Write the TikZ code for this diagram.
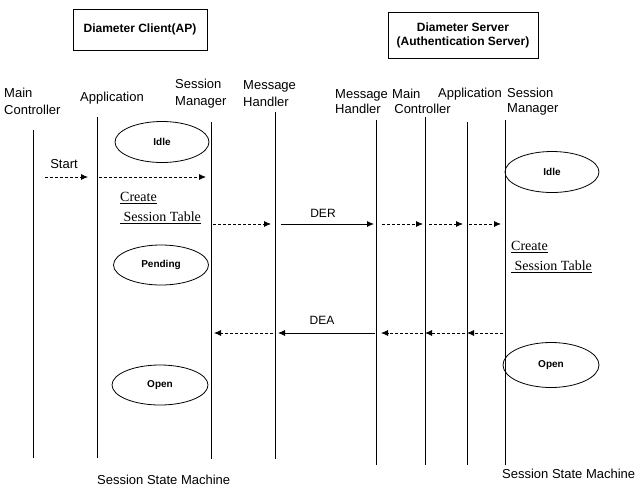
\documentclass[tikz,border=0pt]{standalone}
\usepackage{fontspec}
\setmainfont{Liberation Sans}
\newfontfamily\serifcs{Liberation Serif}
\usetikzlibrary{arrows.meta,shapes.geometric}
\begin{document}
\begin{tikzpicture}[x=1pt,y=-1pt,
  lifeline/.style={draw=black,line width=0.8pt},
  lbl/.style={inner sep=0pt,anchor=west,align=left,font=\fontsize{13}{17}\selectfont},
  hdr/.style={draw=black,line width=0.8pt,inner sep=0pt,align=center,font=\bfseries\fontsize{12}{14}\selectfont},
  state/.style={draw=black,line width=0.8pt,ellipse,inner sep=0pt,font=\bfseries\fontsize{10}{12}\selectfont},
  msg/.style={line width=0.8pt,-{Latex[length=7pt,width=6pt]}},
  dmsg/.style={msg,dash pattern=on 3pt off 2pt},
  note/.style={inner sep=0pt,anchor=west,align=left,font=\serifcs\fontsize{14}{20}\selectfont},
  mtxt/.style={inner sep=0pt,font=\fontsize{12}{14}\selectfont}]
\useasboundingbox[fill=white] (0,0) rectangle (640,488);

% headers
\node[hdr,minimum width=134pt,minimum height=41pt] (hc) at (140,29.5) {Diameter Client(AP)};
\node[hdr,minimum width=150pt,minimum height=46pt] (hs) at (463,35) {Diameter Server\\(Authentication Server)};

% lifeline labels
\node[lbl] (lcmc) at (4,101) {Main\\Controller};
\node[lbl] (lcap) at (80,98) {Application};
\node[lbl] (lcsm) at (175,94) {Session\\Manager};
\node[lbl] (lcmh) at (243,94) {Message\\Handler};
\node[lbl,font=\fontsize{13}{15}\selectfont] (lsmh) at (335,102) {Message\\Handler};
\node[lbl,font=\fontsize{13}{15}\selectfont] (lsmc) at (392,101) {Main\\\,Controller};
\node[lbl] (lsap) at (438,94) {Application};
\node[lbl,font=\fontsize{13}{15}\selectfont] (lssm) at (507,102) {Session\\Manager};

% lifelines
\coordinate (cmcT) at (33,130); \coordinate (cmcB) at (33,458);
\coordinate (capT) at (97,117); \coordinate (capB) at (97,458);
\coordinate (csmT) at (211,122); \coordinate (csmB) at (211,459);
\coordinate (cmhT) at (275,112); \coordinate (cmhB) at (275,459);
\coordinate (smhT) at (376,120); \coordinate (smhB) at (376,465);
\coordinate (smcT) at (425,117); \coordinate (smcB) at (425,465);
\coordinate (sapT) at (467,122); \coordinate (sapB) at (467,465);
\coordinate (ssmT) at (505,120); \coordinate (ssmB) at (505,465);
\foreach \l in {cmc,cap,csm,cmh,smh,smc,sap,ssm} \draw[lifeline] (\l T) -- (\l B);

% states
\node[state,minimum width=94pt,minimum height=41pt] (cidle) at (162,142) {Idle};
\node[state,minimum width=95pt,minimum height=40pt] (cpend) at (161,265) {Pending};
\node[state,minimum width=96pt,minimum height=40pt] (copen) at (160,385) {Open};
\node[state,minimum width=94pt,minimum height=41pt] (sidle) at (552,172) {Idle};
\node[state,minimum width=96pt,minimum height=45pt] (sopen) at (551,365) {Open};

% Start
\node[mtxt,font=\fontsize{13}{15}\selectfont] (start) at (64,164) {Start};
\coordinate (a1s) at (45,177); \coordinate (a1e) at (88,177);
\coordinate (a2s) at (99,177); \coordinate (a2e) at (206,177);
\draw[dmsg] (a1s) -- (a1e);
\draw[dmsg] (a2s) -- (a2e);

% Create Session Table
\node[note] (cst1) at (120,198) {\underline{Create}};
\node[note] (cst2) at (120,218) {\underline{\ Session Table}};
\node[note] (sst1) at (511,247) {\underline{Create}};
\node[note] (sst2) at (511,267) {\underline{\ Session Table}};

% DER
\coordinate (d1s) at (213,224); \coordinate (d1e) at (271,224);
\coordinate (d2s) at (281,224); \coordinate (d2e) at (374,224);
\coordinate (d3s) at (382,224); \coordinate (d3e) at (423,224);
\coordinate (d4s) at (429,224); \coordinate (d4e) at (463,224);
\coordinate (d5s) at (469,224); \coordinate (d5e) at (501,224);
\draw[dmsg] (d1s) -- (d1e);
\draw[msg] (d2s) -- (d2e);
\draw[dmsg] (d3s) -- (d3e);
\draw[dmsg] (d4s) -- (d4e);
\draw[dmsg] (d5s) -- (d5e);
\node[mtxt] (der) at (323,213) {DER};

% DEA
\coordinate (e1s) at (503,333); \coordinate (e1e) at (467,333);
\coordinate (e2s) at (465,333); \coordinate (e2e) at (425,333);
\coordinate (e3s) at (423,333); \coordinate (e3e) at (381,333);
\coordinate (e4s) at (375,333); \coordinate (e4e) at (278,333);
\coordinate (e5s) at (273,333); \coordinate (e5e) at (214,333);
\draw[dmsg] (e1s) -- (e1e);
\draw[dmsg] (e2s) -- (e2e);
\draw[dmsg] (e3s) -- (e3e);
\draw[msg] (e4s) -- (e4e);
\draw[dmsg] (e5s) -- (e5e);
\node[mtxt] (dea) at (322,320) {DEA};

% bottom labels
\node[lbl] (csm) at (97,480) {Session State Machine};
\node[lbl] (ssm) at (502,474) {Session State Machine};
\end{tikzpicture}
\end{document}
